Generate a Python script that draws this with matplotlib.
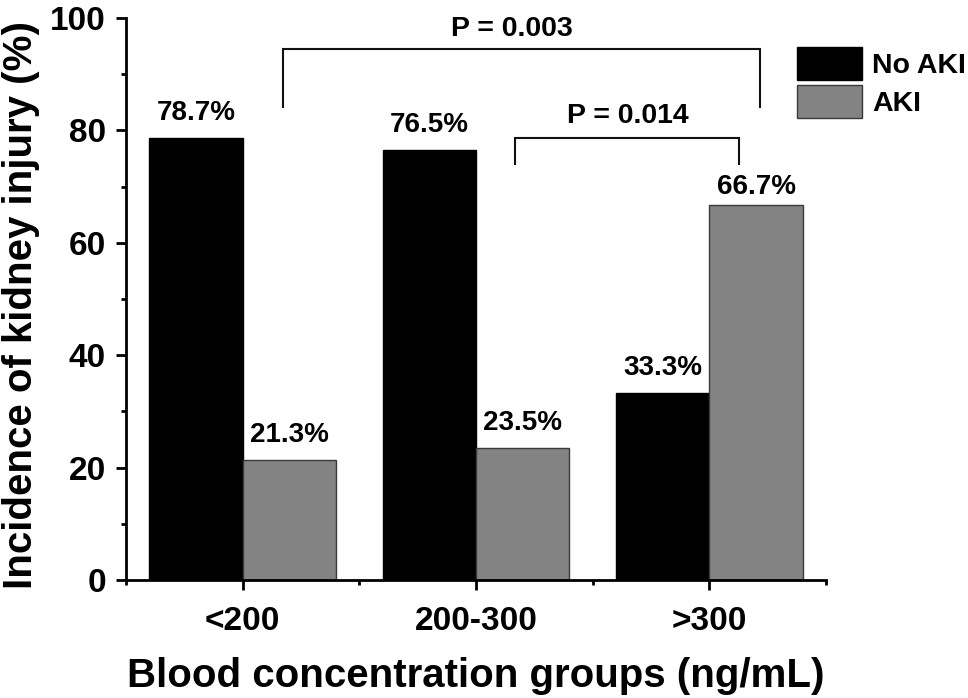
import matplotlib
matplotlib.use("Agg")
import matplotlib.pyplot as plt
import numpy as np
from matplotlib.ticker import MultipleLocator, FixedLocator

plt.rcParams['font.family'] = ['Liberation Sans', 'DejaVu Sans']
plt.rcParams['font.weight'] = 'bold'

categories = ["<200", "200-300", ">300"]
no_aki = [78.7, 76.5, 33.3]
aki = [21.3, 23.5, 66.7]
series_names = ["No AKI", "AKI"]
label_offsets_no_aki = [8.5, 8.5, 8.5]
label_offsets_aki = [8.5, 8.5, 3.6]

fig = plt.figure(figsize=(9.68, 6.98), dpi=100)
ax = fig.add_axes([126/968, 1-580/698, 700/968, 562/698])

x = np.arange(1, len(categories) + 1)
w = 0.4
b1 = ax.bar(x - w/2, no_aki, w, color='black', edgecolor='black', linewidth=1, label=series_names[0])
b2 = ax.bar(x + w/2, aki, w, color='#838383', edgecolor='#3a3a3a', linewidth=1, label=series_names[1])

for bars, vals, offs in ((b1, no_aki, label_offsets_no_aki), (b2, aki, label_offsets_aki)):
    for r, v, o in zip(bars, vals, offs):
        ax.annotate(f"{v:.1f}%", (r.get_x() + r.get_width()/2, v), xytext=(0, o),
                    textcoords='offset points', ha='center', va='bottom',
                    fontsize=20, fontweight='bold')

# significance brackets
def bracket(x0, x1, y, ylow0, ylow1, text, tx, ty):
    ax.plot([x0, x0, x1, x1], [ylow0, y, y, ylow1], color='#111111', lw=1.5,
            clip_on=False, solid_joinstyle='miter')
    ax.text(tx, ty, text, ha='center', va='baseline', fontsize=20.5, fontweight='bold')

bracket(1.173, 3.218, 94.5, 84.2, 84.2, "P = 0.003", 2.154, 96.8)
bracket(2.167, 3.127, 78.6, 74.0, 74.0, "P = 0.014", 2.652, 81.3)

ax.set_xlim(0.5, 3.5)
ax.set_ylim(0, 100)
ax.set_xticks(x)
ax.set_xticklabels(categories)
ax.xaxis.set_minor_locator(FixedLocator([0.5, 1.5, 2.5, 3.5]))
ax.yaxis.set_major_locator(MultipleLocator(20))
ax.yaxis.set_minor_locator(MultipleLocator(10))

for s in ('top', 'right'):
    ax.spines[s].set_visible(False)
for s in ('left', 'bottom'):
    ax.spines[s].set_linewidth(2.0)

ax.tick_params(axis='both', which='major', length=7.5, width=2.0, labelsize=24, direction='out')
ax.tick_params(axis='both', which='minor', length=3.5, width=2.0, direction='out')
ax.tick_params(axis='x', which='major', pad=11)
ax.tick_params(axis='y', which='major', pad=7)
for lab in ax.get_xticklabels() + ax.get_yticklabels():
    lab.set_fontweight('bold')

ax.set_xlabel("Blood concentration groups (ng/mL)", fontsize=29, fontweight='bold')
ax.set_ylabel("Incidence of kidney injury (%)", fontsize=29, fontweight='bold')
ax.xaxis.set_label_coords(0.5, (580 - 657) / 562)
ax.yaxis.set_label_coords((40 - 126) / 700, 0.49)

leg = ax.legend(loc='upper left', bbox_to_anchor=(797/968, 1-47/698), bbox_transform=fig.transFigure,
                frameon=False, fontsize=20.5, handlelength=2.28, handleheight=1.4,
                labelspacing=0.17, handletextpad=0.35, borderpad=0, borderaxespad=0)
for t in leg.get_texts():
    t.set_fontweight('bold')

fig.savefig("out.png", dpi=100)
